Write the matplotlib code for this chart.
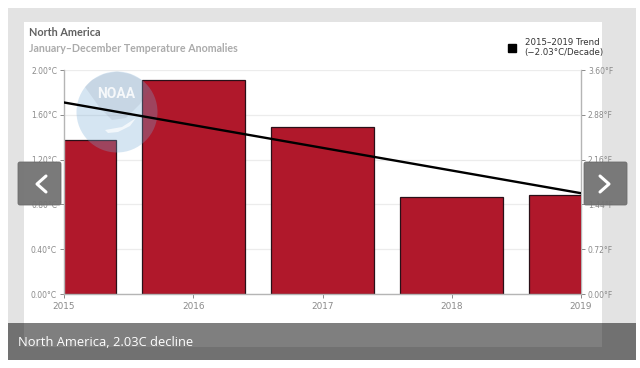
import matplotlib
matplotlib.use('Agg')
import matplotlib.pyplot as plt
from matplotlib.patches import Rectangle, Circle, Polygon, FancyBboxPatch, Patch

years = [2015, 2016, 2017, 2018, 2019]
anomalies = [1.375, 1.915, 1.487, 0.866, 0.888]
trend = [1.71, 0.90]
c_ticks = [0.0, 0.4, 0.8, 1.2, 1.6, 2.0]
f_ticks = [0.0, 0.72, 1.44, 2.16, 2.88, 3.60]
title = 'North America'
subtitle = 'January\u2013December Temperature Anomalies'
legend_label = '2015\u20132019 Trend\n(\u22122.03\u00b0C/Decade)'
caption = 'North America, 2.03C decline'

W, H = 640, 368
fig = plt.figure(figsize=(W/100, H/100), dpi=100, facecolor='white')

# page furniture, in pixel coordinates
bg = fig.add_axes([0, 0, 1, 1], zorder=0)
bg.set_xlim(0, W)
bg.set_ylim(H, 0)
bg.axis('off')
bg.add_patch(Rectangle((8, 8), 628, 352, fc='#e3e3e3', ec='none'))
bg.add_patch(Rectangle((24, 21.5), 578, 325.5, fc='white', ec='none'))
bg.text(29, 33, title, fontsize=7.8, fontweight='bold', color='#606060', family='Lato', va='center')
bg.text(29, 49, subtitle, fontsize=7.7, fontweight='bold', color='#ababab', family='Lato', va='center')

# the chart itself
ax = fig.add_axes([64/W, 1-294/H, (581-64)/W, (294-70)/H], zorder=1)
ax.patch.set_alpha(0)
ax.bar(years, anomalies, width=0.8, color='#b0182b', edgecolor='#2a1018', linewidth=0.9, zorder=2)
ax.plot([years[0], years[-1]], trend, color='black', linewidth=1.7, zorder=4)
ax.set_xlim(2015, 2019)
ax.set_ylim(0, 2)
ax.set_xticks(years)
ax.set_xticklabels([str(y) for y in years], family='DejaVu Sans')
ax.set_yticks(c_ticks)
ax.set_yticklabels(['%.2f\u00b0C' % v for v in c_ticks])
ax.grid(axis='y', color='#ececec', linewidth=0.9, zorder=0)
ax.set_axisbelow(True)
ax.tick_params(axis='x', labelsize=6.4, colors='#8a8a8a', length=3, width=0.7, pad=3)
ax.tick_params(axis='y', labelsize=5.5, colors='#8a8a8a', length=3, width=0.7, pad=2)
for s in ['top', 'right']:
    ax.spines[s].set_visible(False)
for s in ['left', 'bottom']:
    ax.spines[s].set_color('#b5b5b5')
    ax.spines[s].set_linewidth(1.0)

ax_f = ax.secondary_yaxis('right', functions=(lambda c: c*1.8, lambda f: f/1.8))
ax_f.set_yticks(f_ticks)
ax_f.set_yticklabels(['%.2f\u00b0F' % v for v in f_ticks])
ax_f.tick_params(labelsize=5.5, colors='#8a8a8a', length=3, width=0.7, pad=2)
ax_f.spines['right'].set_color('#b5b5b5')
ax_f.spines['right'].set_linewidth(1.0)

# faded NOAA logo, sits over the bars but under the trend line
px = bg.transData
disc = Circle((117, 112), 40.5, fc='#76acd7', ec='none', alpha=0.3, transform=px, zorder=3)
ax.add_patch(disc)
top = Polygon([(85, 87), (92, 80), (104, 74), (117, 71.5), (130, 74), (142, 80), (150, 88),
               (140, 104), (126, 118), (112, 120), (100, 108)],
              fc='#6a6a80', ec='none', alpha=0.12, transform=px, zorder=3)
ax.add_patch(top)
bird = Polygon([(105, 130), (122, 127), (136, 118), (130, 126), (118, 132), (108, 133)],
               fc='white', ec='none', alpha=0.7, transform=px, zorder=3)
ax.add_patch(bird)
ax.text(116.5, 94, 'NOAA', transform=px, fontsize=10, fontweight='bold', color='white', alpha=0.85,
        ha='center', va='center', zorder=3, family='Roboto')

handle = Patch(fc='black', ec='black', label=legend_label)
fig.legend(handles=[handle], loc='center left', bbox_to_anchor=(504/W, 1-47.5/H), frameon=False,
           fontsize=6.2, handlelength=0.9, handleheight=1.0, handletextpad=1.0,
           borderpad=0, labelcolor='#333333')

# caption band and slider buttons on top
top_ax = fig.add_axes([0, 0, 1, 1], zorder=3)
top_ax.set_xlim(0, W)
top_ax.set_ylim(H, 0)
top_ax.axis('off')
top_ax.patch.set_alpha(0)
top_ax.add_patch(Rectangle((8, 323), 628, 37, fc='black', ec='none', alpha=0.5))
top_ax.text(18, 342.5, caption, fontsize=9.3, color='white', family='Open Sans', va='center')
for x0, pts in [(17, [(46, 176), (37, 184), (46, 192)]), (583, [(600, 176), (609, 184), (600, 192)])]:
    top_ax.add_patch(FancyBboxPatch((x0+1, 162), 43, 43, boxstyle='round,pad=0,rounding_size=2',
                                    mutation_aspect=1, fc='#737373', ec='#6a6a6a', lw=0.6, alpha=0.95))
    top_ax.plot([p[0] for p in pts], [p[1] for p in pts], color='white', lw=2.2, solid_capstyle='round')

fig.savefig('out.png', dpi=100)
